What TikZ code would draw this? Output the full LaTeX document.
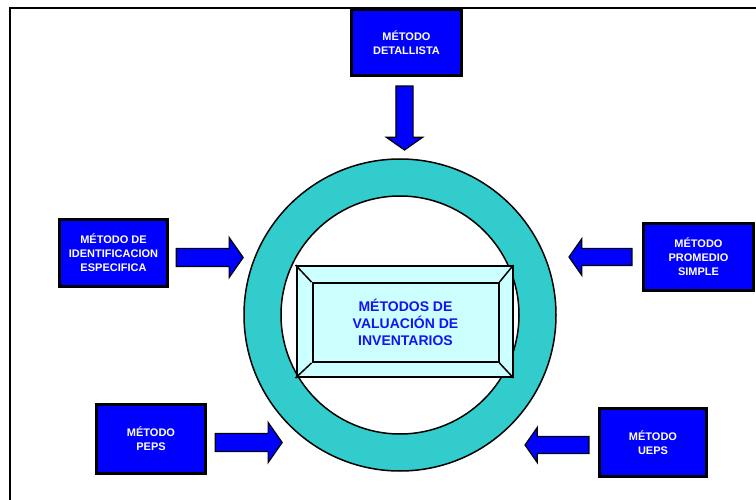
\documentclass[tikz,border=0pt]{standalone}
\usepackage{fontspec}
\setmainfont{Liberation Sans}
\usetikzlibrary{shapes.arrows}
\definecolor{methodblue}{RGB}{0,0,255}
\definecolor{ringteal}{RGB}{51,204,204}
\definecolor{panelcyan}{RGB}{204,255,255}
\definecolor{titleblue}{RGB}{20,20,240}
\begin{document}
\begin{tikzpicture}[x=1pt,y=-1pt,
  methodbox/.style={draw=black, line width=2.5pt, fill=methodblue, text=white,
    font=\fontsize{11}{14}\selectfont\bfseries, align=center, inner sep=0pt},
  blockarrow/.style={single arrow, draw=black, line width=1.2pt, fill=methodblue,
    outer sep=0pt, single arrow tip angle=110,
    single arrow head indent=0pt},
  ringline/.style={circle, draw=black, line width=1.5pt, inner sep=0pt},
  panel/.style={draw=black, line width=2pt, inner sep=0pt}
]
\useasboundingbox (0,0) rectangle (756,500);

% page frame (top and left rules)
\draw[line width=2pt] (10,500) -- (10,8) -- (756,8);

% central ring
\node[ringline, fill=ringteal, minimum size=312pt] (ring) at (400,315) {};
\node[ringline, fill=white, minimum size=238pt] (hole) at (400,315) {};

% bevelled title panel
\node[panel, fill=panelcyan, minimum width=216pt, minimum height=111pt] (frame) at (404.5,321.5) {};
\node[panel, minimum width=186pt, minimum height=79pt, text=titleblue,
  font=\fontsize{14}{17}\selectfont\bfseries, align=center] (core) at (405.5,322.5)
  {MÉTODOS DE\\VALUACIÓN DE\\INVENTARIOS};
\draw[line width=1.5pt] (frame.north west) -- (core.north west);
\draw[line width=1.5pt] (frame.north east) -- (core.north east);
\draw[line width=1.5pt] (frame.south west) -- (core.south west);
\draw[line width=1.5pt] (frame.south east) -- (core.south east);

% method boxes
\node[methodbox, minimum width=110pt, minimum height=66pt] (detallista) at (406.5,42.5) {MÉTODO\\DETALLISTA};
\node[methodbox, minimum width=108pt, minimum height=67pt] (identificacion) at (113.5,253) {MÉTODO DE\\IDENTIFICACION\\ESPECIFICA};
\node[methodbox, minimum width=110pt, minimum height=67pt] (promedio) at (698.5,257) {MÉTODO\\PROMEDIO\\SIMPLE};
\node[methodbox, minimum width=109pt, minimum height=69pt] (peps) at (151,439) {MÉTODO\\PEPS};
\node[methodbox, minimum width=107pt, minimum height=68pt] (ueps) at (653,442.5) {MÉTODO\\UEPS};

% block arrows pointing at the ring (shaft width = twice the cross-wise inner sep)
\node[blockarrow, minimum height=64pt, inner xsep=8pt, inner ysep=0pt, single arrow head extend=9.5pt,
  shape border rotate=270] (arrowtop) at (404.5,115) {};
\node[blockarrow, minimum height=67pt, inner xsep=0pt, inner ysep=8.5pt, single arrow head extend=11pt,
  shape border rotate=0] (arrowid) at (206.5,257.5) {};
\node[blockarrow, minimum height=63pt, inner xsep=0pt, inner ysep=8pt, single arrow head extend=9.5pt,
  shape border rotate=180] (arrowprom) at (603.5,257) {};
\node[blockarrow, minimum height=67pt, inner xsep=0pt, inner ysep=8.5pt, single arrow head extend=11pt,
  shape border rotate=0] (arrowpeps) at (245.5,442.5) {};
\node[blockarrow, minimum height=64pt, inner xsep=0pt, inner ysep=8pt, single arrow head extend=9pt,
  shape border rotate=180] (arrowueps) at (560,445) {};
\end{tikzpicture}
\end{document}
